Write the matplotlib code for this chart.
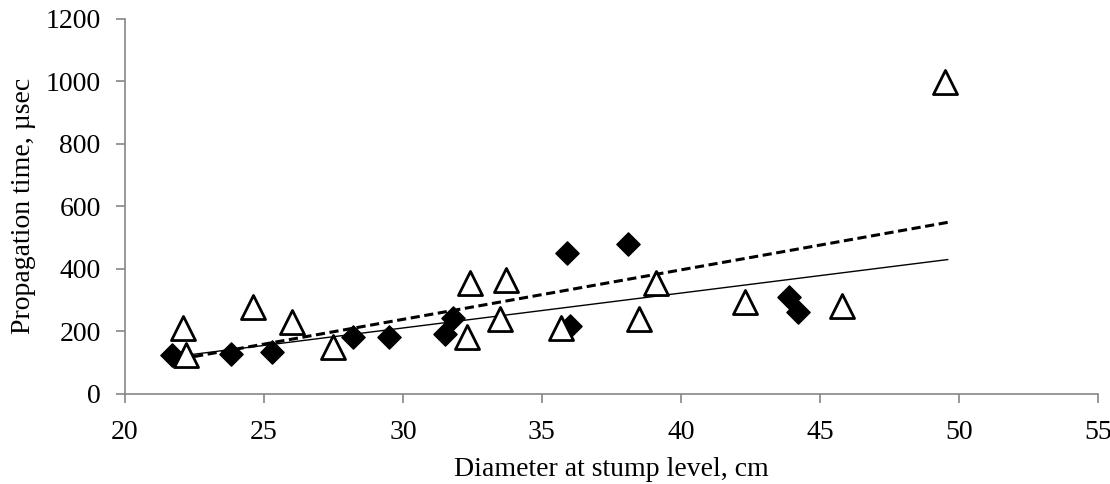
import matplotlib
matplotlib.use("Agg")
import matplotlib.pyplot as plt

# Filled diamonds
diamond_x = [21.7, 23.8, 25.3, 28.2, 29.5, 31.5, 31.8, 35.9, 38.1, 36.0, 43.9, 44.2]
diamond_y = [124, 128, 135, 183, 182, 191, 243, 451, 479, 217, 310, 262]

# Open triangles
triangle_x = [22.1, 22.2, 24.6, 26.0, 27.5, 32.4, 32.3, 33.7, 33.5, 35.7,
              38.5, 39.1, 42.3, 45.8, 49.5]
triangle_y = [210, 124, 278, 231, 150, 354, 182, 364, 240, 210,
              240, 354, 293, 282, 997]

# Trend lines (end points)
solid_x = [22.2, 49.6]
solid_y = [124, 430]
dashed_x = [22.0, 49.6]
dashed_y = [112, 549]

x_ticks = [20, 25, 30, 35, 40, 45, 50, 55]
y_ticks = [0, 200, 400, 600, 800, 1000, 1200]

plt.rcParams["font.family"] = ["Liberation Serif", "DejaVu Serif"]
plt.rcParams["font.size"] = 20

fig = plt.figure(figsize=(11.1, 4.84), dpi=100)
ax = fig.add_axes([0.1126, 0.186, 0.8764, 0.775])

ax.plot(dashed_x, dashed_y, color="black", linestyle=(0, (3, 1.5)), linewidth=2.2)
ax.plot(solid_x, solid_y, color="black", linestyle="-", linewidth=1)

ax.scatter(diamond_x, diamond_y, marker="D", s=140, color="black", zorder=3)
ax.scatter(triangle_x, triangle_y, marker="^", s=300, facecolor="white",
           edgecolor="black", linewidth=2, zorder=3)

ax.set_xlim(20, 55)
ax.set_ylim(0, 1200)
ax.set_xticks(x_ticks)
ax.set_yticks(y_ticks)

for side in ["top", "right"]:
    ax.spines[side].set_visible(False)
for side in ["left", "bottom"]:
    ax.spines[side].set_color("#868686")
    ax.spines[side].set_linewidth(1.2)
ax.tick_params(color="#868686", length=6.5, width=1.2, labelsize=20)
ax.tick_params(axis="y", pad=11)
ax.tick_params(axis="x", pad=12)

ax.set_xlabel("Diameter at stump level, cm", fontsize=20, labelpad=9)
ax.set_ylabel("Propagation time, µsec", fontsize=20, labelpad=7)

fig.savefig("out.png", dpi=100)
